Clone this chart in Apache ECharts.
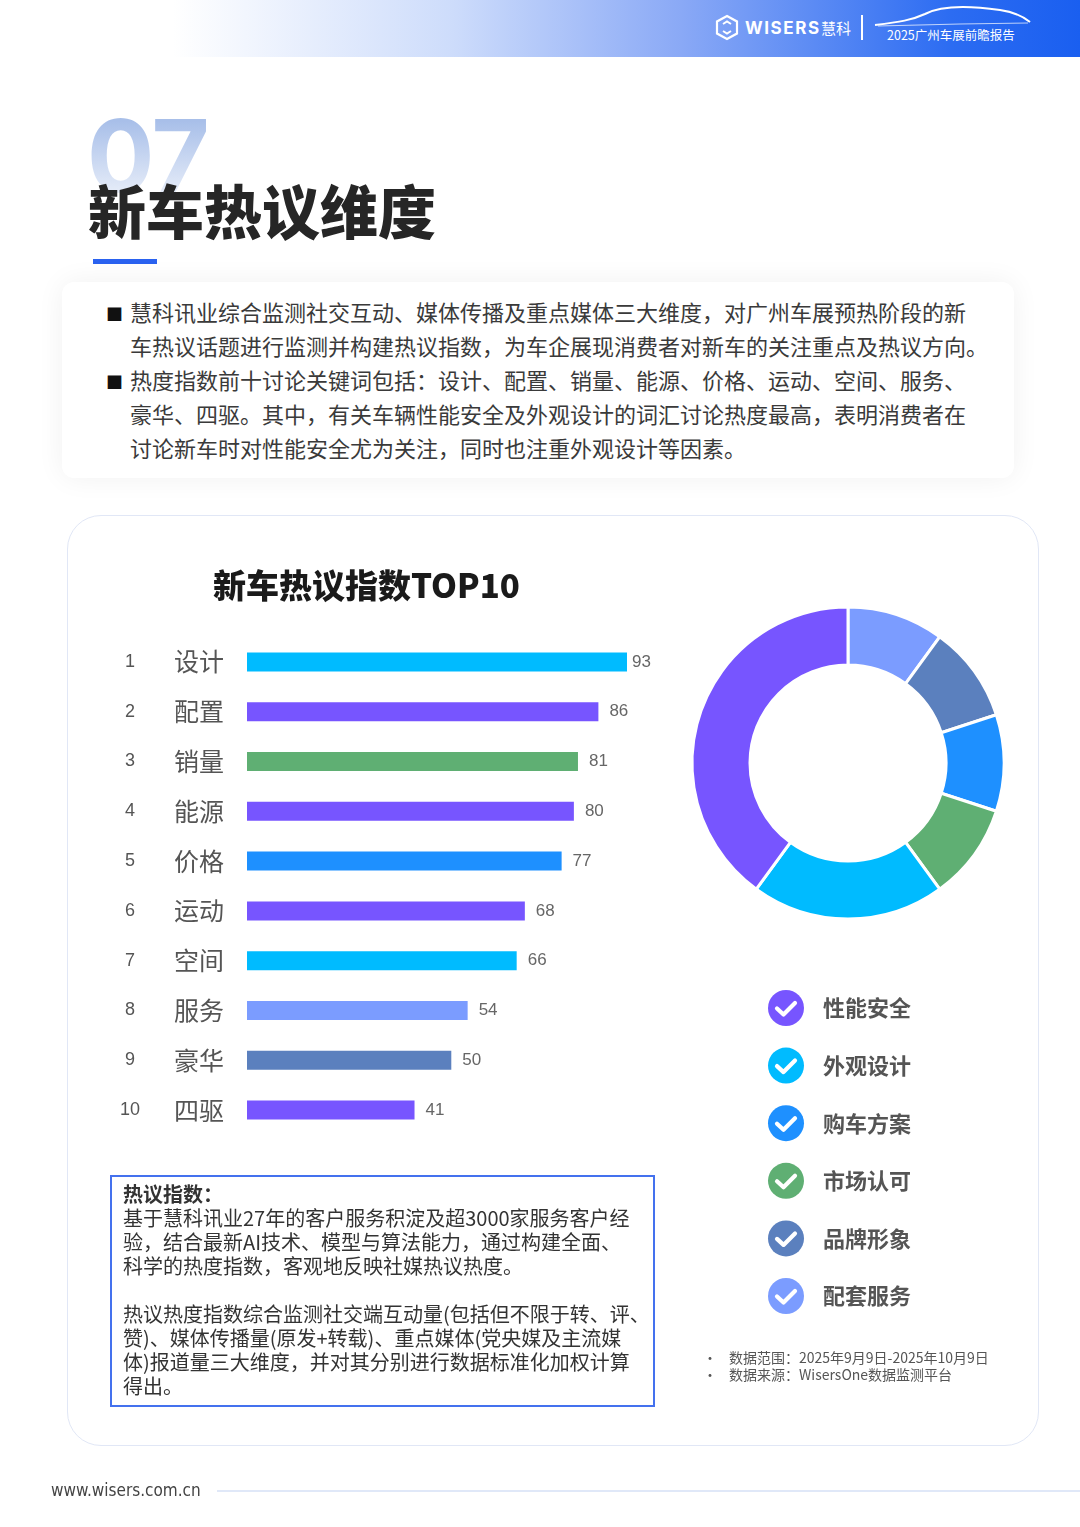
<!DOCTYPE html>
<html>
<head>
<meta charset="utf-8">
<script src="https://cdn.jsdelivr.net/npm/echarts@6/dist/echarts.min.js"></script>
<style>
    * { margin: 0; padding: 0; box-sizing: border-box; }
    body { width: 1080px; height: 1527px; position: relative; background: #fff; overflow: hidden;
        font-family: "Noto Sans CJK SC", "Noto Sans", sans-serif; color: #333; }
    .abs { position: absolute; white-space: nowrap; }
    #header { left: 0; top: 0; width: 1080px; height: 57px;
        background: linear-gradient(90deg, #ffffff 16%, #cddcfb 42%, #8aa9f6 63%, #2c6cf2 88%, #1a5ff0 100%); }
    #big07 { left: 87px; top: 106px; font-family: "Inter", "Noto Sans", sans-serif; font-weight: 700; font-size: 100px;
        line-height: 1; letter-spacing: -1px;
        background: linear-gradient(180deg, #a8bfe9 15%, #e4ebf8 85%); -webkit-background-clip: text; color: transparent; }
    #title { left: 88px; top: 178px; font-size: 58px; font-weight: 900; color: #262626; line-height: 1.1; }
    #uline { left: 93px; top: 259px; width: 64px; height: 5px; background: #2a62f0; }
    #intro { left: 62px; top: 282px; width: 952px; height: 196px; background: #fff; border-radius: 12px;
        box-shadow: 0 0 28px rgba(0,0,0,0.06); }
    .para { font-size: 22px; line-height: 34px; color: #3a3a3a; }
    .bullet { font-size: 17px; color: #111; }
    #card { left: 67px; top: 515px; width: 972px; height: 931px; border: 1.5px solid #e1e7f6; border-radius: 34px; background: #fff; }
    #chart { left: 0; top: 0; width: 1080px; height: 1527px; }
    #info { left: 110px; top: 1175px; width: 545px; height: 232px; border: 2px solid #4471ee; }
    #infoText div { font-size: 20px; line-height: 24px; color: #333; }
    .note { font-size: 14px; line-height: 17px; color: #555; }
    #footer { left: 51px; top: 1480px; font-family: "Liberation Sans Narrow", "DejaVu Sans Condensed", sans-serif;
        font-size: 17px; color: #444; }
    #fline { left: 217px; top: 1490px; width: 863px; height: 2px; background: #e0e8f8; }
</style>
</head>
<body>
<div id="header" class="abs"></div>
<svg class="abs" style="left:0;top:0" width="1080" height="57">
    <polygon points="727,16 737,21.5 737,33.5 727,39 717,33.5 717,21.5" fill="none" stroke="#fff" stroke-width="2.2"/>
    <polyline points="723,24 727,21.5 731,24" fill="none" stroke="#fff" stroke-width="2"/>
    <polyline points="723,31 727,33.5 731,31" fill="none" stroke="#fff" stroke-width="2"/>
    <text x="745" y="34" fill="#fff" font-size="17" font-weight="bold" letter-spacing="1.6" font-family="Inter, Noto Sans, sans-serif">WISERS</text>
    <text x="821" y="34" fill="#fff" font-size="15" font-family="Noto Sans CJK SC">慧科</text>
    <line x1="862" y1="15" x2="862" y2="40" stroke="#fff" stroke-width="2"/>
    <path d="M875,25 C900,22 912,20 925,14 C940,6 965,5 1000,10 C1015,12 1025,18 1030,22" fill="none" stroke="#fff" stroke-width="2"/>
    <path d="M878,26 L960,24 L1028,23" fill="none" stroke="#fff" stroke-opacity="0.7" stroke-width="1"/>
    <text x="887" y="40" fill="#fff" font-size="12.5" font-family="Noto Sans CJK SC">2025广州车展前瞻报告</text>
</svg>

<div id="big07" class="abs">07</div>
<div id="title" class="abs">新车热议维度</div>
<div id="uline" class="abs"></div>

<div id="intro" class="abs"></div>
<div class="abs bullet" style="left:106px;top:301px;">■</div>
<div class="abs bullet" style="left:106px;top:369px;">■</div>
<div class="abs para" style="left:130px;top:294px;">慧科讯业综合监测社交互动、媒体传播及重点媒体三大维度，对广州车展预热阶段的新<br>车热议话题进行监测并构建热议指数，为车企展现消费者对新车的关注重点及热议方向。<br>热度指数前十讨论关键词包括：设计、配置、销量、能源、价格、运动、空间、服务、<br>豪华、四驱。其中，有关车辆性能安全及外观设计的词汇讨论热度最高，表明消费者在<br>讨论新车时对性能安全尤为关注，同时也注重外观设计等因素。</div>

<div id="card" class="abs"></div>
<div id="chart" class="abs"></div>

<div id="info" class="abs"></div>
<div id="infoText" class="abs" style="left:123px;top:1182px;">
    <div style="font-weight:bold;">热议指数：</div>
    <div>基于慧科讯业27年的客户服务积淀及超3000家服务客户经<br>验，结合最新AI技术、模型与算法能力，通过构建全面、<br>科学的热度指数，客观地反映社媒热议热度。<br>&nbsp;<br>热议热度指数综合监测社交端互动量(包括但不限于转、评、<br>赞)、媒体传播量(原发+转载)、重点媒体(党央媒及主流媒<br>体)报道量三大维度，并对其分别进行数据标准化加权计算<br>得出。</div>
</div>

<div class="abs note" style="left:703px;top:1349px;">•<br>•</div>
<div class="abs note" style="left:729px;top:1349px;">数据范围：2025年9月9日-2025年10月9日<br>数据来源：WisersOne数据监测平台</div>

<div id="footer" class="abs">www.wisers.com.cn</div>
<div id="fline" class="abs"></div>

<script>
    // 热议指数 TOP10
    const ranks = ['1', '2', '3', '4', '5', '6', '7', '8', '9', '10']
    const keywords = ['设计', '配置', '销量', '能源', '价格', '运动', '空间', '服务', '豪华', '四驱']
    const heatValues = [93, 86, 81, 80, 77, 68, 66, 54, 50, 41]
    const barColors = ['#00BBFF', '#7755FF', '#5FAF73', '#7755FF', '#1E90FF', '#7755FF', '#00BBFF', '#7B9CFF', '#5B80BE', '#7755FF']

    // 热议维度 (legend order)
    const dimNames = ['性能安全', '外观设计', '购车方案', '市场认可', '品牌形象', '配套服务']
    const dimShares = [40, 20, 10, 10, 10, 10]
    const dimColors = ['#7755FF', '#00BBFF', '#1E90FF', '#5FAF73', '#5B80BE', '#7B9CFF']
    // clockwise from 12 o'clock
    const pieOrder = ['配套服务', '品牌形象', '购车方案', '市场认可', '外观设计', '性能安全']

    const getOption = () => {
        const pieData = pieOrder.map(n => {
            const i = dimNames.indexOf(n)
            return {name: n, value: dimShares[i], itemStyle: {color: dimColors[i]}}
        })

        const legendItems = []
        dimNames.forEach((n, i) => {
            const y = 1008 + i * 57.6
            legendItems.push({
                type: 'circle', shape: {cx: 786, cy: y, r: 18}, style: {fill: dimColors[i]}
            })
            legendItems.push({
                type: 'polyline', shape: {points: [[777, y + 0.5], [783.5, y + 6.5], [795, y - 5]]},
                style: {stroke: '#fff', lineWidth: 4.2, fill: null, lineCap: 'round', lineJoin: 'round'}
            })
            legendItems.push({
                type: 'text', x: 823, y: y,
                style: {text: n, fill: '#555', fontSize: 22, fontWeight: 'bold',
                    fontFamily: 'Noto Sans CJK SC', verticalAlign: 'middle'}
            })
        })

        return {
            animation: false,
            title: {
                text: '新车热议指数TOP10',
                left: 208,
                top: 564,
                textStyle: {fontSize: 33, fontWeight: 900, color: '#1a1a1a', fontFamily: 'Noto Sans CJK SC'}
            },
            grid: {left: 247, top: 637, width: 408.6, height: 498},
            xAxis: {
                type: 'value', min: 0, max: 100, show: false
            },
            yAxis: {
                type: 'category',
                inverse: true,
                data: keywords,
                axisLine: {show: false},
                axisTick: {show: false},
                axisLabel: {
                    margin: 22,
                    formatter: (v, idx) => '{r|' + ranks[idx] + '}{n|' + v + '}',
                    rich: {
                        r: {width: 86, align: 'center', fontSize: 18, color: '#555', fontFamily: 'Liberation Sans'},
                        n: {width: 52, align: 'left', fontSize: 25, color: '#555', fontFamily: 'Noto Sans CJK SC'}
                    }
                }
            },
            series: [
                {
                    type: 'bar',
                    data: heatValues.map((v, i) => ({
                        value: v,
                        itemStyle: {color: barColors[i]},
                        // the top bar's label sits tighter to the bar
                        label: {distance: i === 0 ? 5 : 11}
                    })),
                    barWidth: 19,
                    label: {
                        show: true, position: 'right',
                        color: '#666', fontSize: 17, fontFamily: 'Liberation Sans'
                    }
                },
                {
                    type: 'pie',
                    center: [848, 763],
                    radius: [98, 156],
                    startAngle: 90,
                    clockwise: true,
                    label: {show: false},
                    labelLine: {show: false},
                    itemStyle: {borderColor: '#fff', borderWidth: 3},
                    data: pieData
                }
            ],
            graphic: legendItems
        }
    }

    const chart = echarts.init(document.getElementById('chart'))
    chart.setOption(getOption())
</script>
</body>
</html>
